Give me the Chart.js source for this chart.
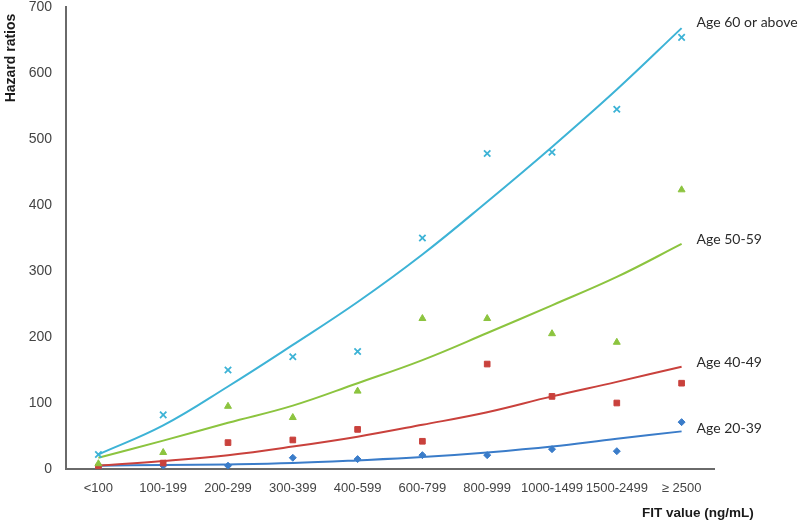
<!DOCTYPE html>
<html>
<head>
<meta charset="utf-8">
<style>
  html, body { margin: 0; padding: 0; background: #fff; }
  #wrap { width: 800px; height: 522px; }
</style>
<script src="https://cdn.jsdelivr.net/npm/chart.js@4/dist/chart.umd.min.js"></script>
</head>
<body>
<div id="wrap"><canvas id="chart" width="800" height="522"></canvas></div>
<script>
// categories on the x axis
const fitBands = ["<100", "100-199", "200-299", "300-399", "400-599", "600-799", "800-999", "1000-1499", "1500-2499", "\u2265 2500"];
const yTicks = [0, 100, 200, 300, 400, 500, 600, 700];

// observed hazard ratios (markers)
const hr2039 = [1, 5, 5, 17, 15, 21, 21, 30, 27, 71];
const hr4049 = [3, 9, 40, 44, 60, 42, 159, 110, 100, 130];
const hr5059 = [8, 25, 95, 78, 118, 228, 228, 205, 192, 423];
const hr60 = [22, 82, 150, 170, 178, 350, 478, 480, 545, 654];

// fitted trend lines
const trend2039 = [5, 6, 7, 9, 13, 18, 25, 34, 46, 57];
const trend4049 = [5, 12, 21, 34, 49, 67, 86, 110, 132, 155];
const trend5059 = [17, 43, 70, 96, 130, 165, 206, 248, 291, 341];
const trend60 = [22, 66, 125, 188, 253, 325, 405, 488, 575, 668];

const groupNames = ["Age 20-39", "Age 40-49", "Age 50-59", "Age 60 or above"];

const COLORS = {
  a2039: "#3a7cc9",
  a4049: "#c9413c",
  a5059: "#8cc43f",
  a60: "#3db3d6"
};

function trendSet(label, data, color) {
  return {
    label,
    data,
    borderColor: color,
    borderWidth: 2,
    pointRadius: 0,
    tension: 0.4,
    fill: false,
    order: 2
  };
}

function markerSet(label, data, color, style, radius) {
  return {
    label,
    data,
    showLine: false,
    pointStyle: style,
    pointRadius: radius,
    pointBorderWidth: style === "crossRot" ? 1.8 : 1,
    pointBackgroundColor: color,
    pointBorderColor: color,
    order: 1
  };
}

// text that Chart.js does not place itself: axis titles and series labels
const annotations = {
  id: "annotations",
  afterDraw(chart) {
    const { ctx } = chart;
    const x = chart.scales.x;
    const y = chart.scales.y;
    ctx.save();

    ctx.fillStyle = "#1a1a1a";
    ctx.font = "bold 14px 'Liberation Sans', Arial, sans-serif";
    ctx.textAlign = "center";
    ctx.textBaseline = "middle";
    ctx.translate(11, 58);
    ctx.rotate(-Math.PI / 2);
    ctx.fillText("Hazard ratios", 0, 0);
    ctx.setTransform(1, 0, 0, 1, 0, 0);

    ctx.font = "bold 13.5px 'Liberation Sans', Arial, sans-serif";
    ctx.textAlign = "left";
    ctx.fillText("FIT value (ng/mL)", 642, 513);

    const ends = [trend2039, trend4049, trend5059, trend60];
    const lift = [3, 4, 4, 6];
    ctx.font = "14px Lato, 'Open Sans', sans-serif";
    ctx.fillStyle = "#2b2b2b";
    const lx = x.getPixelForValue(fitBands.length - 1) + 15;
    ends.forEach((arr, i) => {
      ctx.fillText(groupNames[i], lx, y.getPixelForValue(arr[arr.length - 1]) - lift[i]);
    });
    ctx.restore();
  }
};

new Chart(document.getElementById("chart"), {
  type: "line",
  data: {
    labels: fitBands,
    datasets: [
      trendSet(groupNames[3], trend60, COLORS.a60),
      trendSet(groupNames[2], trend5059, COLORS.a5059),
      trendSet(groupNames[1], trend4049, COLORS.a4049),
      trendSet(groupNames[0], trend2039, COLORS.a2039),
      markerSet(groupNames[3], hr60, COLORS.a60, "crossRot", 4.5),
      markerSet(groupNames[2], hr5059, COLORS.a5059, "triangle", 4),
      markerSet(groupNames[1], hr4049, COLORS.a4049, "rect", 4),
      markerSet(groupNames[0], hr2039, COLORS.a2039, "rectRot", 3.5)
    ]
  },
  options: {
    responsive: false,
    animation: false,
    layout: { padding: { top: 7, right: 86, bottom: 0, left: 0 } },
    plugins: { legend: { display: false }, tooltip: { enabled: false } },
    scales: {
      x: {
        offset: true,
        grid: { display: false, drawTicks: false },
        border: { display: true, color: "#6a6a6a", width: 2 },
        ticks: {
          color: "#444",
          padding: 12,
          maxRotation: 0,
          autoSkip: false,
          font: { family: "'Liberation Sans', Arial, sans-serif", size: 13 }
        },
        afterFit(scale) {
          scale.height = 53;
          scale.paddingLeft = 0;
          scale.paddingRight = 0;
        }
      },
      y: {
        min: 0,
        max: 700,
        afterBuildTicks(scale) { scale.ticks = yTicks.map(v => ({ value: v })); },
        grid: { display: false, drawTicks: false },
        border: { display: true, color: "#6a6a6a", width: 2 },
        ticks: {
          color: "#444",
          padding: 14,
          font: { family: "'Liberation Sans', Arial, sans-serif", size: 14 }
        },
        afterFit(scale) {
          scale.width = 66;
          scale.paddingTop = 0;
          scale.paddingBottom = 0;
        }
      }
    }
  },
  plugins: [annotations]
});
</script>
</body>
</html>
